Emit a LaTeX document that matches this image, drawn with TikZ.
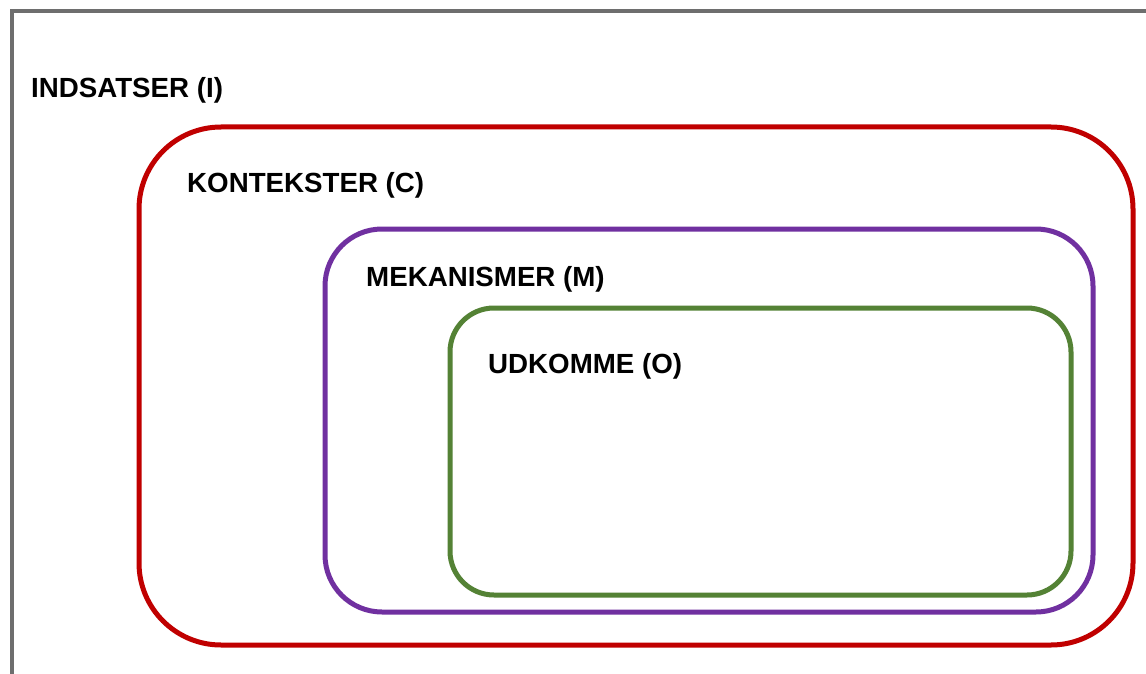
\documentclass[tikz,border=0pt]{standalone}
\usepackage{fontspec}
\setmainfont{Liberation Sans}
\definecolor{framegray}{HTML}{6E6E6E}
\definecolor{ctxred}{HTML}{C00000}
\definecolor{mechpurple}{HTML}{7030A0}
\definecolor{outgreen}{HTML}{548235}
\tikzset{
  layer/.style={draw, line width=5pt, inner sep=0pt, fill=none},
  heading/.style={anchor=base west, inner sep=0pt, font=\fontsize{27.7}{30}\selectfont\bfseries, text=black}
}
\begin{document}
\begin{tikzpicture}[x=1pt, y=-1pt]
  \useasboundingbox (0,0) rectangle (1146,674);
  \begin{scope}
    \clip (0,0) rectangle (1146,674);
    \fill[white] (0,0) rectangle (1146,674);
    % outer frame (continues past the right and bottom edges)
    \draw[framegray, line width=4.5pt] (12,700) -- (12,11) -- (1200,11);
  \end{scope}
  % nested layers
  \node[layer, draw=ctxred, rounded corners=82pt, minimum width=994pt, minimum height=518pt] (ctx) at (636,386) {};
  \node[layer, draw=mechpurple, rounded corners=57pt, minimum width=768pt, minimum height=383pt] (mech) at (709,420.5) {};
  \node[layer, draw=outgreen, rounded corners=44pt, minimum width=621pt, minimum height=287pt] (outc) at (760.5,451.5) {};
  % labels
  \node[heading] (lblI) at (31,98) {INDSATSER (I)};
  \node[heading] (lblC) at (187,193) {KONTEKSTER (C)};
  \node[heading] (lblM) at (366,286) {MEKANISMER (M)};
  \node[heading] (lblO) at (488,373) {UDKOMME (O)};
\end{tikzpicture}
\end{document}
